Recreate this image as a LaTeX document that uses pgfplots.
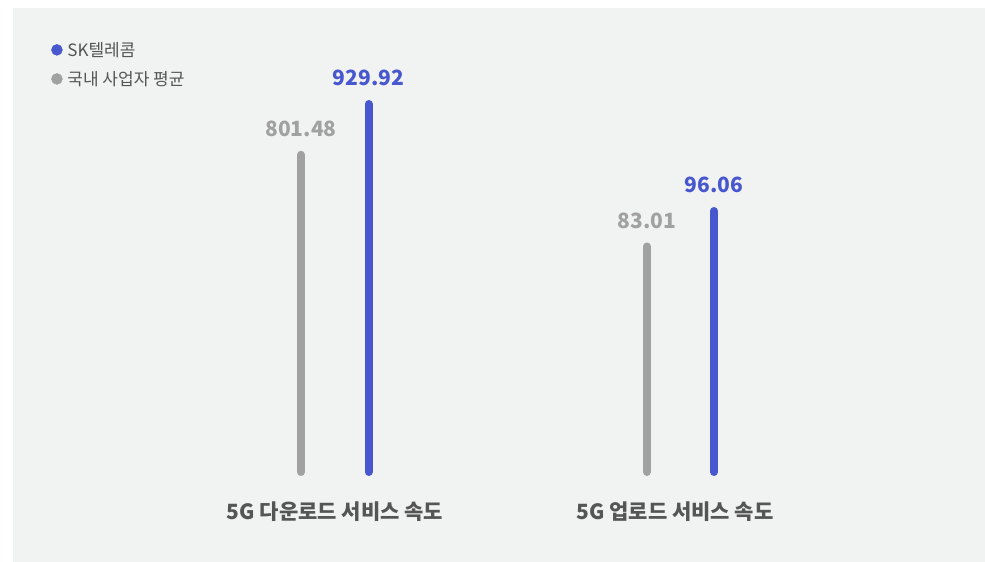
\documentclass[border=0pt]{standalone}
\usepackage{pgfplots}
\pgfplotsset{compat=1.18}
\usepackage{fontspec}
\setmainfont{Noto Sans CJK KR}
\definecolor{skblue}{HTML}{4758CF}
\definecolor{avggray}{HTML}{A0A1A0}
\definecolor{bgc}{HTML}{F1F2F2}
\definecolor{txt}{HTML}{555555}
\pgfplotsset{
  base/.style={scale only axis, width=985pt, height=562pt, xmin=0, xmax=985,
    axis lines=none, clip=false, at={(0,0)}, anchor=south west,
    xtick=\empty, ytick=\empty},
  bar/.style={line width=8pt, line cap=round},
  val/.style={draw=none, mark=none, nodes near coords, point meta=explicit symbolic,
    nodes near coords style={font=\bfseries\fontsize{21}{21}\selectfont, text=#1, anchor=center, yshift=26pt}},
}
\begin{document}
\begin{tikzpicture}
\fill[bgc] (13pt,0) rectangle (985pt,554pt);
\path (0,0) rectangle (985pt,562pt);
% 5G download
\begin{axis}[base, ymin=-227.43, ymax=1192.7,
  legend style={draw=none, fill=none, at={(axis description cs:0.052,0.929)}, anchor=north west,
    nodes={font=\fontsize{17}{17}\selectfont, text=txt}, row sep=9.5pt, inner sep=0pt,
    /tikz/every odd column/.append style={column sep=3pt}},
  legend cell align=left]
\addlegendimage{only marks, mark=*, mark size=5.5pt, skblue}
\addlegendentry{SK텔레콤}
\addlegendimage{only marks, mark=*, mark size=5.5pt, avggray}
\addlegendentry{국내 사업자 평균}
\addplot[bar, avggray] coordinates {(301,0) (301,801.48)};
\addplot[bar, skblue] coordinates {(368.5,0) (368.5,929.92)};
\addplot[val=avggray] coordinates {(301,801.48) [801.48]};
\addplot[val=skblue] coordinates {(368.5,929.92) [929.92]};
\node[font=\bfseries\fontsize{21}{21}\selectfont, text=txt, yshift=-40pt] at (axis cs:335,0) {5G 다운로드 서비스 속도};
\end{axis}
% 5G upload
\begin{axis}[base, ymin=-33.12, ymax=173.71]
\addplot[bar, avggray] coordinates {(647,0) (647,83.01)};
\addplot[bar, skblue] coordinates {(714,0) (714,96.06)};
\addplot[val=avggray] coordinates {(647,83.01) [83.01]};
\addplot[val=skblue] coordinates {(714,96.06) [96.06]};
\node[font=\bfseries\fontsize{21}{21}\selectfont, text=txt, yshift=-40pt] at (axis cs:675,0) {5G 업로드 서비스 속도};
\end{axis}
\end{tikzpicture}
\end{document}
